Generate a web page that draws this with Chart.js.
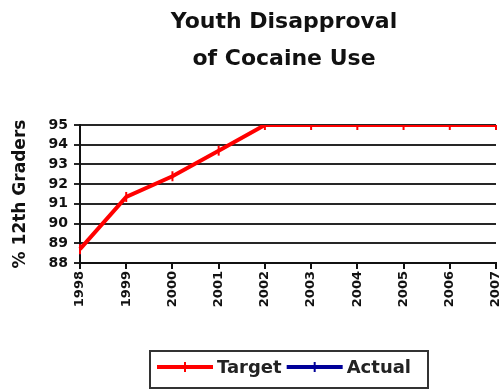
<!DOCTYPE html>
<html>
<head>
<meta charset="utf-8">
<script src="https://cdn.jsdelivr.net/npm/chart.js@4.4.1/dist/chart.umd.min.js"></script>
<style>
  html, body { margin: 0; padding: 0; background: #ffffff; }
  #wrap { width: 503px; height: 391px; }
</style>
</head>
<body>
<div id="wrap"><canvas id="chart" width="503" height="391"></canvas></div>
<script>
// Survey years and series values (% of 12th graders disapproving)
const years = ['1998', '1999', '2000', '2001', '2002', '2003', '2004', '2005', '2006', '2007'];
const targetValues = [88.7, 91.35, 92.4, 93.7, 95, 95, 95, 95, 95, 95];
const actualValues = [88.7, null, null, null, null, null, null, null, null, null];
const seriesNames = ['Target', 'Actual'];
const yMin = 88;
const yMax = 95;
const titleLines = ['Youth Disapproval', 'of Cocaine Use'];
const yAxisTitle = '% 12th Graders';

const FONT = '"DejaVu Sans", "Liberation Sans", sans-serif';

// Two-line heading centred over the plot
const titlePlugin = {
  id: 'twoLineTitle',
  afterDraw(chart) {
    const { ctx, chartArea } = chart;
    const cx = (chartArea.left + chartArea.right) / 2 - 4;
    ctx.save();
    ctx.fillStyle = '#111111';
    ctx.font = 'bold 22px ' + FONT;
    ctx.textAlign = 'center';
    ctx.textBaseline = 'alphabetic';
    ctx.fillText(titleLines[0], cx, 28);
    ctx.fillText(titleLines[1], cx, 65);
    ctx.restore();
  }
};

// Boxed legend with a line-and-dash swatch for every series
const legendPlugin = {
  id: 'boxLegend',
  afterDraw(chart) {
    const { ctx } = chart;
    const boxLeft = 150, boxTop = 351, boxRight = 428, boxBottom = 388;
    const midY = 367;
    ctx.save();
    ctx.strokeStyle = '#333333';
    ctx.lineWidth = 2;
    ctx.strokeRect(boxLeft, boxTop, boxRight - boxLeft, boxBottom - boxTop);
    ctx.font = 'bold 18px ' + FONT;
    ctx.textBaseline = 'middle';
    ctx.textAlign = 'left';
    let x = boxLeft + 7;
    chart.data.datasets.forEach((ds) => {
      const len = 56;
      ctx.strokeStyle = ds.borderColor;
      ctx.lineWidth = 4;
      ctx.beginPath();
      ctx.moveTo(x, midY);
      ctx.lineTo(x + len, midY);
      ctx.stroke();
      ctx.lineWidth = 2;
      ctx.beginPath();
      ctx.moveTo(x + len / 2, midY - 5);
      ctx.lineTo(x + len / 2, midY + 5);
      ctx.stroke();
      ctx.fillStyle = '#222222';
      ctx.fillText(ds.label, x + len + 4, midY + 1);
      x += len + 4 + ctx.measureText(ds.label).width + 5;
    });
    ctx.restore();
  }
};

new Chart(document.getElementById('chart'), {
  type: 'line',
  data: {
    labels: years,
    datasets: [
      {
        label: seriesNames[0],
        data: targetValues,
        borderColor: '#ff0000',
        backgroundColor: '#ff0000',
        borderWidth: 4,
        pointStyle: 'line',
        pointRotation: 90,
        pointRadius: 5,
        pointBorderWidth: 2,
        tension: 0
      },
      {
        label: seriesNames[1],
        data: actualValues,
        borderColor: '#000099',
        backgroundColor: '#000099',
        borderWidth: 4,
        pointStyle: 'line',
        pointRotation: 90,
        pointRadius: 5,
        pointBorderWidth: 2,
        tension: 0
      }
    ]
  },
  options: {
    responsive: false,
    animation: false,
    devicePixelRatio: 1,
    layout: { padding: { left: 0, right: 6, top: 125, bottom: 78 } },
    plugins: {
      legend: { display: false },
      title: { display: false },
      tooltip: { enabled: false }
    },
    scales: {
      x: {
        type: 'category',
        offset: false,
        afterFit(scale) {
          scale.height = 50;
          scale.paddingLeft = 0;
          scale.paddingRight = 0;
        },
        border: { display: true, color: '#111111', width: 2 },
        grid: {
          display: true,
          drawOnChartArea: false,
          drawTicks: true,
          tickLength: 6,
          color: '#111111',
          lineWidth: 2
        },
        ticks: {
          autoSkip: false,
          minRotation: 90,
          maxRotation: 90,
          padding: 2,
          color: '#111111',
          font: { family: FONT, size: 13, weight: 'bold' }
        }
      },
      y: {
        min: yMin,
        max: yMax,
        afterFit(scale) {
          scale.width = 80;
          scale.paddingTop = 0;
          scale.paddingBottom = 0;
        },
        border: { display: true, color: '#111111', width: 2 },
        grid: {
          display: true,
          drawOnChartArea: true,
          drawTicks: true,
          tickLength: 6,
          color: '#262626',
          lineWidth: 2
        },
        ticks: {
          stepSize: 1,
          autoSkip: false,
          padding: 6,
          color: '#111111',
          font: { family: FONT, size: 14, weight: 'bold' }
        },
        title: {
          display: true,
          text: yAxisTitle,
          color: '#111111',
          padding: { top: 10, bottom: 0 },
          font: { family: FONT, size: 17, weight: 'bold' }
        }
      }
    }
  },
  plugins: [titlePlugin, legendPlugin]
});
</script>
</body>
</html>
